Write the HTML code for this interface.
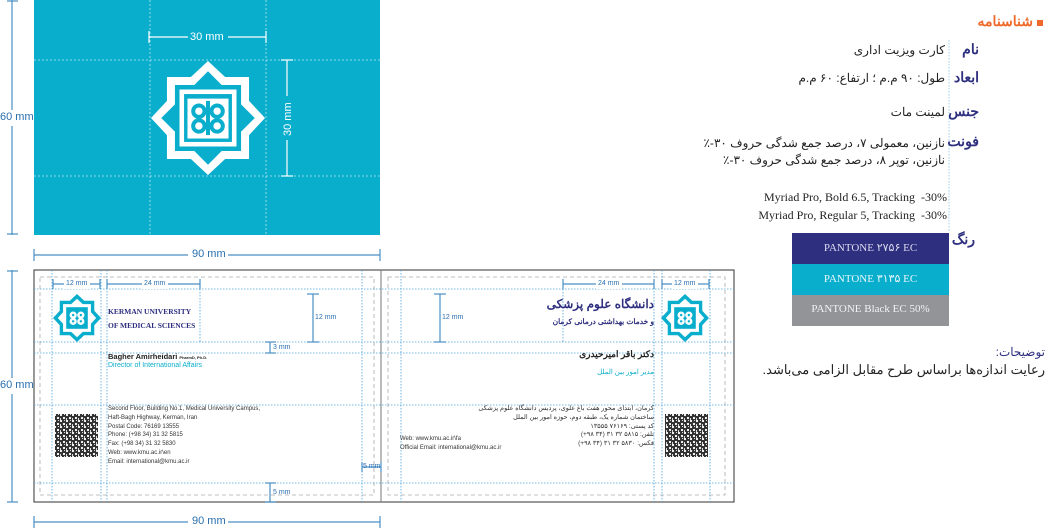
<!DOCTYPE html>
<html><head><meta charset="utf-8"><style>
body{margin:0;width:1051px;height:528px;background:#fff;overflow:hidden;position:relative;font-family:"Liberation Sans",sans-serif}
.t{position:absolute;white-space:nowrap}
.fa{font-family:"Liberation Sans","Noto Sans CJK SC",sans-serif;direction:rtl}
</style></head><body>
<svg width="1051" height="528" style="position:absolute;left:0;top:0">
<rect x="34" y="0" width="346" height="235" fill="#0aaecd"/>
<g stroke="#fff" stroke-dasharray="2,2" stroke-width="0.8" opacity="0.7">
<line x1="34" y1="60" x2="380" y2="60"/><line x1="34" y1="176" x2="380" y2="176"/>
<line x1="150" y1="0" x2="150" y2="235"/><line x1="266" y1="0" x2="266" y2="235"/>
</g>
<g stroke="#fff" stroke-width="1.2">
<line x1="149" y1="37" x2="266" y2="37"/><line x1="149" y1="31" x2="149" y2="43"/><line x1="266" y1="31" x2="266" y2="43"/>
<line x1="287" y1="60" x2="287" y2="176"/><line x1="281" y1="60" x2="293" y2="60"/><line x1="281" y1="176" x2="293" y2="176"/>
</g>
<rect x="188" y="31" width="40" height="12" fill="#0aaecd"/>
<rect x="281" y="96" width="12" height="44" fill="#0aaecd"/>
<g transform="translate(208,118) scale(57)">
<polygon points="0,-1 0.3,-0.72 0.72,-0.72 0.72,-0.3 1,0 0.72,0.3 0.72,0.72 0.3,0.72 0,1 -0.3,0.72 -0.72,0.72 -0.72,0.3 -1,0 -0.72,-0.3 -0.72,-0.72 -0.3,-0.72" fill="#fff"/>
<polygon points="0,-0.82 0.24,-0.58 0.58,-0.58 0.58,-0.24 0.82,0 0.58,0.24 0.58,0.58 0.24,0.58 0,0.82 -0.24,0.58 -0.58,0.58 -0.58,0.24 -0.82,0 -0.58,-0.24 -0.58,-0.58 -0.24,-0.58" fill="#0aaecd"/>
<rect x="-0.5" y="-0.5" width="1" height="1" fill="#fff"/>
<rect x="-0.42" y="-0.42" width="0.84" height="0.84" fill="#0aaecd"/>
<rect x="-0.36" y="-0.34" width="0.72" height="0.7" fill="#fff"/>
<g fill="none" stroke="#0aaecd" stroke-width="0.07"><circle cx="-0.16" cy="-0.12" r="0.1"/><circle cx="0.16" cy="-0.12" r="0.1"/><circle cx="-0.16" cy="0.14" r="0.1"/><circle cx="0.16" cy="0.14" r="0.1"/><line x1="0" y1="-0.3" x2="0" y2="0.3"/></g>
</g>
<g stroke="#4a8fc4" stroke-width="1.2">
<line x1="12" y1="0" x2="12" y2="235"/><line x1="7" y1="1" x2="18" y2="1"/><line x1="7" y1="234" x2="18" y2="234"/>
<line x1="34" y1="255" x2="380" y2="255"/><line x1="34" y1="249" x2="34" y2="261"/><line x1="380" y1="249" x2="380" y2="261"/>
<line x1="12" y1="270" x2="12" y2="502"/><line x1="7" y1="271" x2="18" y2="271"/><line x1="7" y1="502" x2="18" y2="502"/>
<line x1="34" y1="522" x2="380" y2="522"/><line x1="34" y1="516" x2="34" y2="528"/><line x1="380" y1="516" x2="380" y2="528"/>
</g>
<rect x="0" y="110" width="32" height="16" fill="#fff"/><rect x="0" y="378" width="32" height="16" fill="#fff"/>
<rect x="188" y="248" width="40" height="14" fill="#fff"/><rect x="188" y="515" width="40" height="14" fill="#fff"/>
<rect x="34" y="270" width="700" height="232" fill="none" stroke="#555" stroke-width="1.2"/>
<line x1="381" y1="270" x2="381" y2="502" stroke="#777" stroke-width="1"/>
<g fill="none" stroke="#aaa" stroke-dasharray="4,3" stroke-width="0.8">
<rect x="40" y="277" width="334" height="218"/><rect x="388" y="277" width="337" height="218"/>
</g>
<g stroke="#4aa3dd" stroke-dasharray="1.5,1.5" stroke-width="0.8">
<line x1="34" y1="289" x2="734" y2="289"/><line x1="34" y1="342" x2="734" y2="342"/><line x1="34" y1="353" x2="734" y2="353"/><line x1="34" y1="405" x2="734" y2="405"/><line x1="34" y1="483" x2="734" y2="483"/>
<line x1="52" y1="270" x2="52" y2="502"/><line x1="101" y1="270" x2="101" y2="502"/><line x1="107" y1="270" x2="107" y2="502"/><line x1="362" y1="270" x2="362" y2="502"/>
<line x1="200" y1="289" x2="200" y2="342"/><line x1="563" y1="289" x2="563" y2="342"/>
<line x1="401" y1="270" x2="401" y2="502"/><line x1="654" y1="270" x2="654" y2="502"/><line x1="662" y1="270" x2="662" y2="502"/><line x1="710" y1="270" x2="710" y2="502"/>
</g>
<g stroke="#4a8fc4" stroke-width="1.2">
<line x1="53" y1="284" x2="100" y2="284"/><line x1="53" y1="279" x2="53" y2="289"/><line x1="100" y1="279" x2="100" y2="289"/>
<line x1="107" y1="284" x2="200" y2="284"/><line x1="107" y1="279" x2="107" y2="289"/><line x1="200" y1="279" x2="200" y2="289"/>
<line x1="313" y1="294" x2="313" y2="342"/><line x1="307" y1="294" x2="319" y2="294"/><line x1="307" y1="342" x2="319" y2="342"/>
<line x1="270" y1="342" x2="270" y2="353"/><line x1="265" y1="342" x2="276" y2="342"/><line x1="265" y1="353" x2="276" y2="353"/>
<line x1="270" y1="483" x2="270" y2="502"/><line x1="265" y1="483" x2="276" y2="483"/><line x1="265" y1="502" x2="276" y2="502"/>
<line x1="362" y1="467" x2="381" y2="467"/><line x1="362" y1="462" x2="362" y2="472"/><line x1="381" y1="462" x2="381" y2="472"/>
<line x1="563" y1="284" x2="654" y2="284"/><line x1="563" y1="279" x2="563" y2="289"/><line x1="654" y1="279" x2="654" y2="289"/>
<line x1="662" y1="284" x2="709" y2="284"/><line x1="662" y1="279" x2="662" y2="289"/><line x1="709" y1="279" x2="709" y2="289"/>
<line x1="440" y1="294" x2="440" y2="342"/><line x1="434" y1="294" x2="446" y2="294"/><line x1="434" y1="342" x2="446" y2="342"/>
</g>
<rect x="64" y="280" width="26" height="9" fill="#fff"/><rect x="142" y="280" width="26" height="9" fill="#fff"/>
<rect x="596" y="280" width="26" height="9" fill="#fff"/><rect x="672" y="280" width="26" height="9" fill="#fff"/>
<g transform="translate(77,318) scale(24)">
<polygon points="0,-1 0.3,-0.72 0.72,-0.72 0.72,-0.3 1,0 0.72,0.3 0.72,0.72 0.3,0.72 0,1 -0.3,0.72 -0.72,0.72 -0.72,0.3 -1,0 -0.72,-0.3 -0.72,-0.72 -0.3,-0.72" fill="#0aaecd"/>
<polygon points="0,-0.8 0.24,-0.58 0.58,-0.58 0.58,-0.24 0.8,0 0.58,0.24 0.58,0.58 0.24,0.58 0,0.8 -0.24,0.58 -0.58,0.58 -0.58,0.24 -0.8,0 -0.58,-0.24 -0.58,-0.58 -0.24,-0.58" fill="#fff"/>
<rect x="-0.45" y="-0.45" width="0.9" height="0.9" fill="#0aaecd"/>
<g fill="none" stroke="#fff" stroke-width="0.1"><circle cx="-0.16" cy="-0.12" r="0.1"/><circle cx="0.16" cy="-0.12" r="0.1"/><circle cx="-0.16" cy="0.14" r="0.1"/><circle cx="0.16" cy="0.14" r="0.1"/></g>
</g>
<g transform="translate(685,318) scale(24)">
<polygon points="0,-1 0.3,-0.72 0.72,-0.72 0.72,-0.3 1,0 0.72,0.3 0.72,0.72 0.3,0.72 0,1 -0.3,0.72 -0.72,0.72 -0.72,0.3 -1,0 -0.72,-0.3 -0.72,-0.72 -0.3,-0.72" fill="#0aaecd"/>
<polygon points="0,-0.8 0.24,-0.58 0.58,-0.58 0.58,-0.24 0.8,0 0.58,0.24 0.58,0.58 0.24,0.58 0,0.8 -0.24,0.58 -0.58,0.58 -0.58,0.24 -0.8,0 -0.58,-0.24 -0.58,-0.58 -0.24,-0.58" fill="#fff"/>
<rect x="-0.45" y="-0.45" width="0.9" height="0.9" fill="#0aaecd"/>
<g fill="none" stroke="#fff" stroke-width="0.1"><circle cx="-0.16" cy="-0.12" r="0.1"/><circle cx="0.16" cy="-0.12" r="0.1"/><circle cx="-0.16" cy="0.14" r="0.1"/><circle cx="0.16" cy="0.14" r="0.1"/></g>
</g>
<defs><pattern id="qr" width="6" height="6" patternUnits="userSpaceOnUse"><rect width="6" height="6" fill="#333"/><rect width="2" height="2" fill="#eee"/><rect x="3" y="3" width="2" height="2" fill="#eee"/><rect x="4" y="0" width="1" height="1" fill="#ddd"/><rect x="0" y="4" width="1" height="2" fill="#ddd"/></pattern></defs>
<rect x="55" y="414" width="43" height="43" fill="url(#qr)"/>
<rect x="665" y="414" width="43" height="43" fill="url(#qr)"/>
<line x1="949" y1="40" x2="949" y2="232" stroke="#9cd3ea" stroke-dasharray="1.5,1.5"/>
<rect x="792" y="233" width="157" height="31" fill="#2e2f7f"/>
<rect x="792" y="264" width="157" height="31" fill="#0aaecd"/>
<rect x="792" y="295" width="157" height="31" fill="#929497"/>
<rect x="1037" y="20" width="6" height="6" fill="#ef6a2a"/>
</svg>
<div class="t" style="left:0;top:111px;font-size:11px;color:#2a6fb0">60 mm</div>
<div class="t" style="left:0;top:379px;font-size:11px;color:#2a6fb0">60 mm</div>
<div class="t" style="left:192px;top:248px;font-size:11px;color:#2a6fb0">90 mm</div>
<div class="t" style="left:192px;top:515px;font-size:11px;color:#2a6fb0">90 mm</div>
<div class="t" style="left:190px;top:31px;font-size:11px;color:#fff">30 mm</div>
<div class="t" style="left:282px;top:136px;font-size:11px;color:#fff;transform:rotate(-90deg);transform-origin:0 0">30 mm</div>
<div class="t" style="left:66px;top:280px;font-size:7px;color:#2a6fb0">12 mm</div>
<div class="t" style="left:144px;top:280px;font-size:7px;color:#2a6fb0">24 mm</div>
<div class="t" style="left:315px;top:314px;font-size:7px;color:#2a6fb0">12 mm</div>
<div class="t" style="left:273px;top:344px;font-size:7px;color:#2a6fb0">3 mm</div>
<div class="t" style="left:273px;top:489px;font-size:7px;color:#2a6fb0">5 mm</div>
<div class="t" style="left:363px;top:463px;font-size:7px;color:#2a6fb0">5 mm</div>
<div class="t" style="left:598px;top:280px;font-size:7px;color:#2a6fb0">24 mm</div>
<div class="t" style="left:674px;top:280px;font-size:7px;color:#2a6fb0">12 mm</div>
<div class="t" style="left:442px;top:314px;font-size:7px;color:#2a6fb0">12 mm</div>
<div class="t" style="left:108px;top:305px;font:bold 7.5px 'Liberation Serif',serif;color:#2e2f7f;line-height:14px">KERMAN UNIVERSITY<br>OF MEDICAL SCIENCES</div>
<div class="t" style="left:108px;top:352px;font-size:7.5px;font-weight:bold;color:#222">Bagher Amirheidari <span style="font-size:4px">PharmD, Ph.D.</span></div>
<div class="t" style="left:108px;top:362px;font-size:7px;color:#0aaecd">Director of International Affairs</div>
<div class="t" style="left:108px;top:405px;font-size:6px;color:#333;line-height:8.8px">Second Floor, Building No.1, Medical University Campus,<br>Haft-Bagh Highway, Kerman, Iran<br>Postal Code: 76169 13555<br>Phone: (+98 34) 31 32 5815<br>Fax: (+98 34) 31 32 5830<br>Web: www.kmu.ac.ir\en<br>Email: international@kmu.ac.ir</div>
<div class="t fa" style="right:397px;top:297px;font-size:12px;font-weight:bold;color:#2e2f7f">دانشگاه علوم پزشکی</div>
<div class="t fa" style="right:397px;top:317px;font-size:7.5px;font-weight:bold;color:#2e2f7f">و خدمات بهداشتی درمانی کرمان</div>
<div class="t fa" style="right:397px;top:349px;font-size:9px;font-weight:bold;color:#222">دکتر باقر امیرحیدری</div>
<div class="t fa" style="right:397px;top:368px;font-size:7px;color:#0aaecd">مدیر امور بین الملل</div>
<div class="t fa" style="right:397px;top:405px;font-size:6.5px;color:#333;line-height:8.8px;text-align:right">کرمان، ابتدای محور هفت باغ علوی، پردیس دانشگاه علوم پزشکی<br>ساختمان شماره یک، طبقه دوم، حوزه امور بین الملل<br>کد پستی: ۷۶۱۶۹ ۱۳۵۵۵<br>تلفن: ۵۸۱۵ ۳۲ ۳۱ (۳۴ ۹۸+)<br>فکس: ۵۸۳۰ ۳۲ ۳۱ (۳۴ ۹۸+)</div>
<div class="t" style="left:400px;top:435px;font-size:6px;color:#333;line-height:9px">Web: www.kmu.ac.ir\fa<br>Official Email: international@kmu.ac.ir</div>
<div class="t fa" style="right:18px;top:13px;font-size:14px;font-weight:bold;color:#ef6a2a">شناسنامه</div>
<div class="t fa" style="right:72px;top:41px;font-size:14px;font-weight:bold;color:#2e2f7f">نام</div>
<div class="t fa" style="right:72px;top:69px;font-size:14px;font-weight:bold;color:#2e2f7f">ابعاد</div>
<div class="t fa" style="right:72px;top:103px;font-size:14px;font-weight:bold;color:#2e2f7f">جنس</div>
<div class="t fa" style="right:72px;top:133px;font-size:14px;font-weight:bold;color:#2e2f7f">فونت</div>
<div class="t fa" style="right:76px;top:231px;font-size:14px;font-weight:bold;color:#2e2f7f">رنگ</div>
<div class="t fa" style="right:106px;top:43px;font-size:12px;color:#222">کارت ویزیت اداری</div>
<div class="t fa" style="right:106px;top:71px;font-size:12px;color:#222">طول: ۹۰ م.م ؛ ارتفاع: ۶۰ م.م</div>
<div class="t fa" style="right:106px;top:105px;font-size:12px;color:#222">لمینت مات</div>
<div class="t fa" style="right:106px;top:135px;font-size:12px;color:#222;line-height:17px;text-align:right">نازنین، معمولی ۷، درصد جمع شدگی حروف ۳۰-٪<br>نازنین، توپر ۸، درصد جمع شدگی حروف ۳۰-٪</div>
<div class="t" style="right:104px;top:188px;font:12px 'Liberation Serif',serif;color:#222;text-align:right;line-height:18px">Myriad Pro, Bold 6.5, Tracking&nbsp; -30%<br>Myriad Pro, Regular 5, Tracking&nbsp; -30%</div>
<div class="t" style="left:792px;width:157px;text-align:center;top:241px;font:11px 'Liberation Serif',serif;color:#dcdcf0">PANTONE ۲۷۵۶ EC</div>
<div class="t" style="left:792px;width:157px;text-align:center;top:272px;font:11px 'Liberation Serif',serif;color:#e6f7fb">PANTONE ۳۱۳۵ EC</div>
<div class="t" style="left:792px;width:157px;text-align:center;top:303px;font:11px 'Liberation Serif',serif;color:#f2f2f2">PANTONE Black EC 50%</div>
<div class="t fa" style="right:6px;top:345px;font-size:12px;color:#2e2f7f">توضیحات:</div>
<div class="t fa" style="right:6px;top:362px;font-size:13px;color:#222">رعایت اندازه‌ها براساس طرح مقابل الزامی می‌باشد.</div>
</body></html>
